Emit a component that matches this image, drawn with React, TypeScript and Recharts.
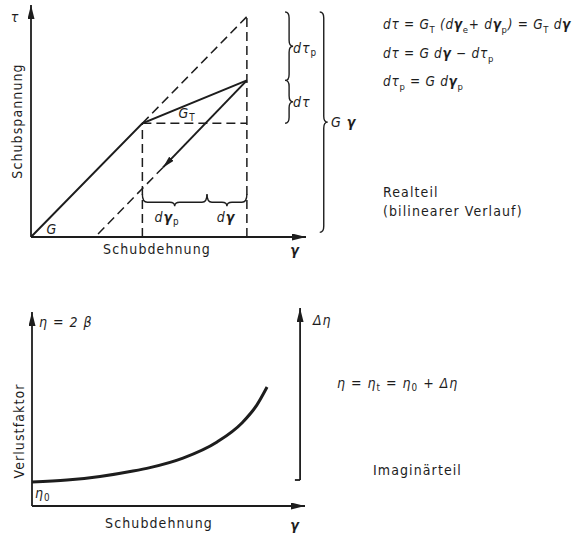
import React from "react";
import { ComposedChart, Line, ReferenceLine, XAxis, YAxis } from "recharts";

const INK = "#1d1d1d";
const FONT = '"DejaVu Sans Condensed", "Liberation Sans Narrow", "DejaVu Sans", sans-serif';

type Pt = { x: number; y: number };
type Seg = [Pt, Pt];

// --- Realteil (gamma, tau), arbitrary units ---
const loadPath: Pt[] = [
  { x: 0, y: 0 },
  { x: 4.05, y: 4.9 },
  { x: 7.85, y: 6.75 },
];
const unloadArrow: Seg = [
  { x: 7.85, y: 6.75 },
  { x: 4.8, y: 3.0 },
];
const dashedSegs: Seg[] = [
  [{ x: 4.05, y: 4.9 }, { x: 7.85, y: 9.5 }],
  [{ x: 4.05, y: 0 }, { x: 4.05, y: 4.9 }],
  [{ x: 4.05, y: 4.9 }, { x: 7.85, y: 4.9 }],
  [{ x: 7.85, y: 0 }, { x: 7.85, y: 9.5 }],
  [{ x: 4.8, y: 3.0 }, { x: 2.33, y: 0 }],
];
const topAxes: Seg[] = [
  [{ x: 0, y: 0 }, { x: 10, y: 0 }],
  [{ x: 0, y: 0 }, { x: 0, y: 10 }],
];
// vertical braces right of the chart: [x, tauFrom, tauTo]
const tauBraces: [number, number, number][] = [
  [9.24, 9.7, 6.75],
  [9.24, 6.75, 4.9],
  [10.5, 9.7, 0.2],
];
// horizontal braces under the triangle: [tau, gammaFrom, gammaTo]
const gammaBraces: [number, number, number][] = [
  [1.5, 4.05, 6.4],
  [1.5, 6.4, 7.85],
];

// --- Imaginärteil (gamma, eta) ---
const lossCurve: Pt[] = [
  { x: 0, y: 1.24 },
  { x: 1.28, y: 1.34 },
  { x: 2.49, y: 1.52 },
  { x: 3.7, y: 1.8 },
  { x: 4.32, y: 1.98 },
  { x: 5.53, y: 2.47 },
  { x: 6.78, y: 3.3 },
  { x: 7.69, y: 4.28 },
  { x: 8.24, y: 5.21 },
  { x: 8.61, y: 6.13 },
];
const bottomAxes: Seg[] = [
  [{ x: 0, y: 0 }, { x: 10, y: 0 }],
  [{ x: 0, y: 0 }, { x: 0, y: 10 }],
  [{ x: 9.82, y: 1.34 }, { x: 9.82, y: 10.2 }],
];
const deltaFoot: Seg = [
  { x: 9.63, y: 1.34 },
  { x: 9.82, y: 1.34 },
];

const arrowLine = (p: any) => (
  <line x1={p.x1} y1={p.y1} x2={p.x2} y2={p.y2} stroke={INK} strokeWidth={2} markerEnd="url(#ah)" />
);
const axisLine = (p: any) => (
  <line x1={p.x1} y1={p.y1} x2={p.x2} y2={p.y2} stroke={INK} strokeWidth={1.8} markerEnd="url(#axh)" />
);
const braceV = (p: any) => {
  const x = p.x1;
  const a = Math.min(p.y1, p.y2);
  const b = Math.max(p.y1, p.y2);
  const m = (a + b) / 2;
  const w = 4;
  const r = Math.min(6, (b - a) / 4);
  const d = `M${x},${a} Q${x + w},${a} ${x + w},${a + r} L${x + w},${m - r} Q${x + w},${m} ${x + 2 * w},${m} Q${x + w},${m} ${x + w},${m + r} L${x + w},${b - r} Q${x + w},${b} ${x},${b}`;
  return <path d={d} fill="none" stroke={INK} strokeWidth={1.4} />;
};
const braceH = (p: any) => {
  const y = p.y1;
  const a = Math.min(p.x1, p.x2);
  const b = Math.max(p.x1, p.x2);
  const m = (a + b) / 2;
  const h = 4;
  const r = 5;
  const d = `M${a},${y - 2 * h} Q${a},${y} ${a + r},${y} L${m - r},${y} Q${m},${y} ${m},${y + h} Q${m},${y} ${m + r},${y} L${b - r},${y} Q${b},${y} ${b},${y - 2 * h}`;
  return <path d={d} fill="none" stroke={INK} strokeWidth={1.4} />;
};

const Sub = ({ children }: { children: React.ReactNode }) => (
  <sub style={{ fontSize: "0.7em", verticalAlign: "-0.35em", lineHeight: 0, fontStyle: "normal" }}>{children}</sub>
);
const Gm = () => <b style={{ fontWeight: 700 }}>γ</b>;

const Txt = ({
  x,
  y,
  c,
  rot,
  it,
  size = 14,
  ls,
  children,
}: {
  x: number;
  y: number;
  c?: boolean;
  rot?: boolean;
  it?: boolean;
  size?: number;
  ls?: number;
  children: React.ReactNode;
}) => (
  <div
    style={{
      position: "absolute",
      left: x,
      top: y,
      transform: rot ? "translate(-50%,-50%) rotate(-90deg)" : c ? "translate(-50%,-50%)" : "translateY(-50%)",
      whiteSpace: "nowrap",
      fontFamily: FONT,
      fontSize: size,
      fontStyle: it ? "italic" : "normal",
      letterSpacing: ls ?? (it ? 1 : 1.1),
      color: INK,
      lineHeight: 1,
    }}
  >
    {children}
  </div>
);

export default function App() {
  return (
    <div style={{ position: "absolute", left: 0, top: 0, width: 585, height: 533, background: "#fff", overflow: "hidden" }}>
      <svg width={0} height={0} style={{ position: "absolute" }}>
        <defs>
          <marker id="ah" viewBox="0 0 12 6" refX={12} refY={3} markerWidth={12} markerHeight={6} markerUnits="userSpaceOnUse" orient="auto">
            <path d="M0,0 L12,3 L0,6 z" fill={INK} />
          </marker>
          <marker id="axh" viewBox="0 0 14 7" refX={14} refY={3.5} markerWidth={14} markerHeight={7} markerUnits="userSpaceOnUse" orient="auto">
            <path d="M0,0 L14,3.5 L0,7 z" fill={INK} />
          </marker>
        </defs>
      </svg>

      <div style={{ position: "absolute", left: 0, top: 0 }}>
        <ComposedChart width={585} height={270} margin={{ top: 5, right: 279, bottom: 33, left: 31 }}>
          <XAxis type="number" dataKey="x" domain={[0, 10]} allowDataOverflow hide />
          <YAxis type="number" domain={[0, 10]} allowDataOverflow hide />
          {dashedSegs.map((s, i) => (
            <ReferenceLine key={`d${i}`} segment={s} stroke={INK} strokeWidth={1.5} strokeDasharray="9 5" ifOverflow="visible" />
          ))}
          {topAxes.map((s, i) => (
            <ReferenceLine key={`a${i}`} segment={s} shape={axisLine} ifOverflow="visible" />
          ))}
          <ReferenceLine segment={unloadArrow} shape={arrowLine} ifOverflow="visible" />
          {tauBraces.map(([x, a, b], i) => (
            <ReferenceLine key={`bv${i}`} segment={[{ x, y: a }, { x, y: b }]} shape={braceV} ifOverflow="visible" />
          ))}
          {gammaBraces.map(([y, a, b], i) => (
            <ReferenceLine key={`bh${i}`} segment={[{ x: a, y }, { x: b, y }]} shape={braceH} ifOverflow="visible" />
          ))}
          <Line data={loadPath} dataKey="y" type="linear" stroke={INK} strokeWidth={2} dot={false} activeDot={false} isAnimationActive={false} />
        </ComposedChart>
      </div>

      <div style={{ position: "absolute", left: 0, top: 270 }}>
        <ComposedChart width={585} height={263} margin={{ top: 42, right: 280, bottom: 27, left: 32 }}>
          <XAxis type="number" dataKey="x" domain={[0, 10]} allowDataOverflow hide />
          <YAxis type="number" domain={[0, 10]} allowDataOverflow hide />
          {bottomAxes.map((s, i) => (
            <ReferenceLine key={`a${i}`} segment={s} shape={axisLine} ifOverflow="visible" />
          ))}
          <ReferenceLine segment={deltaFoot} stroke={INK} strokeWidth={1.8} ifOverflow="visible" />
          <Line data={lossCurve} dataKey="y" type="monotone" stroke={INK} strokeWidth={3} dot={false} activeDot={false} isAnimationActive={false} />
        </ComposedChart>
      </div>

      {/* Realteil labels */}
      <Txt x={15} y={17} c it>τ</Txt>
      <Txt x={17} y={121} rot>Schubspannung</Txt>
      <Txt x={52} y={229} c it>G</Txt>
      <Txt x={187} y={113} c it>G<Sub>T</Sub></Txt>
      <Txt x={157} y={249} c>Schubdehnung</Txt>
      <Txt x={295} y={250} c it><Gm /></Txt>
      <Txt x={167} y={217} c it>d<Gm /><Sub>p</Sub></Txt>
      <Txt x={226} y={217} c it>d<Gm /></Txt>
      <Txt x={293} y={48} it>dτ<Sub>p</Sub></Txt>
      <Txt x={293} y={102} it>dτ</Txt>
      <Txt x={331} y={122} it>G <Gm /></Txt>
      <Txt x={383} y={25} it size={13.5} ls={0.7}>
        dτ = G<Sub>T</Sub> (d<Gm /><Sub>e</Sub>+ d<Gm /><Sub>p</Sub>) = G<Sub>T</Sub> d<Gm />
      </Txt>
      <Txt x={383} y={54} it size={13.5} ls={0.7}>
        dτ = G d<Gm /> − dτ<Sub>p</Sub>
      </Txt>
      <Txt x={383} y={82} it size={13.5} ls={0.7}>
        dτ<Sub>p</Sub> = G d<Gm /><Sub>p</Sub>
      </Txt>
      <Txt x={383} y={192}>Realteil</Txt>
      <Txt x={383} y={211}>(bilinearer Verlauf)</Txt>

      {/* Imaginärteil labels */}
      <Txt x={39} y={322} it>η = 2 β</Txt>
      <Txt x={19} y={431} rot>Verlustfaktor</Txt>
      <Txt x={35} y={493} it>η<Sub>0</Sub></Txt>
      <Txt x={159} y={523} c>Schubdehnung</Txt>
      <Txt x={295} y={525} c it><Gm /></Txt>
      <Txt x={313} y={320} it>Δη</Txt>
      <Txt x={337} y={383} it>
        η = η<Sub>t</Sub> = η<Sub>0</Sub> + Δη
      </Txt>
      <Txt x={373} y={470}>Imaginärteil</Txt>
    </div>
  );
}
